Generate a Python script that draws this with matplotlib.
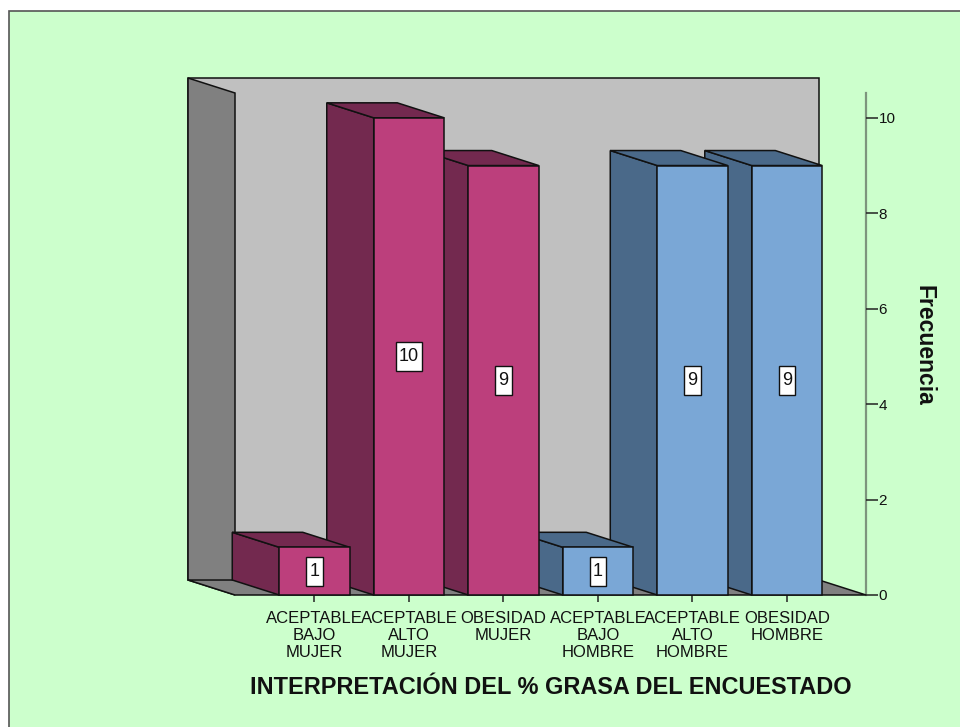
import matplotlib
matplotlib.use("Agg")
import matplotlib.pyplot as plt
from matplotlib.patches import Polygon, Rectangle
from matplotlib.path import Path

plt.rcParams['font.family'] = ['Liberation Sans', 'DejaVu Sans']

# Data
categories = ["ACEPTABLE\nBAJO\nMUJER", "ACEPTABLE\nALTO\nMUJER", "OBESIDAD\nMUJER",
              "ACEPTABLE\nBAJO\nHOMBRE", "ACEPTABLE\nALTO\nHOMBRE", "OBESIDAD\nHOMBRE"]
frecuencias = [1, 10, 9, 1, 9, 9]
sexo = ["MUJER", "MUJER", "MUJER", "HOMBRE", "HOMBRE", "HOMBRE"]
y_ticks = [0, 2, 4, 6, 8, 10]

# Styling
W, H = 960, 727
BG = "#CCFFCC"
FRONT = {"MUJER": "#BC3F7C", "HOMBRE": "#7AA7D6"}
SIDE = {"MUJER": "#73294F", "HOMBRE": "#4A6989"}
WALL = "#C0C0C0"
SIDEWALL = "#808080"
EDGE = "#111111"
BAR_W = 0.746
DX, DY = 0.497, 0.314          # oblique depth offset (data units)
XLIM = (-0.841, 5.836)
YLIM = (0, 10.52)


def label_box(x0, y0, width, height, mutation_size):
    """Rectangular label box with more vertical than horizontal padding."""
    px, py = 0.17 * mutation_size, 0.33 * mutation_size
    l, r = x0 - px, x0 + width + px
    b, t = y0 - py, y0 + height + py
    return Path([(l, b), (r, b), (r, t), (l, t), (l, b)],
                [Path.MOVETO, Path.LINETO, Path.LINETO, Path.LINETO, Path.CLOSEPOLY])


fig = plt.figure(figsize=(W / 100, H / 100), dpi=100, facecolor="white")

# green panel with dark frame on top/left
fig.patches.append(Rectangle((9 / W, -0.01), 1.0, 1 - 11 / H + 0.01,
                             transform=fig.transFigure, facecolor=BG,
                             edgecolor="#555555", linewidth=1.2, zorder=-10))

ax = fig.add_axes([235 / W, 1 - 595 / H, (866 - 235) / W, (595 - 93) / H])
ax.set_zorder(1)
ax.set_facecolor("none")
ax.set_xlim(*XLIM)
ax.set_ylim(*YLIM)
x0, x1 = XLIM
y1 = YLIM[1]


def poly(pts, fc, z):
    ax.add_patch(Polygon(pts, closed=True, facecolor=fc, edgecolor=EDGE,
                         linewidth=1.1, joinstyle="miter", clip_on=False, zorder=z))


# back wall, left wall and floor
poly([(x0 - DX, DY), (x1 - DX, DY), (x1 - DX, y1 + DY), (x0 - DX, y1 + DY)], WALL, 1)
poly([(x0, 0), (x0, y1), (x0 - DX, y1 + DY), (x0 - DX, DY)], SIDEWALL, 2)
poly([(x0, 0), (x1, 0), (x1 - DX, DY), (x0 - DX, DY)], SIDEWALL, 2)

# 3D bars, drawn right to left so nearer-left bars cover neighbours' side faces
for i in reversed(range(len(frecuencias))):
    v = frecuencias[i]
    g = sexo[i]
    a, b = i - BAR_W / 2, i + BAR_W / 2
    z = 10 + (len(frecuencias) - i) * 3
    poly([(a, 0), (a, v), (a - DX, v + DY), (a - DX, DY)], SIDE[g], z)
    poly([(a, v), (b, v), (b - DX, v + DY), (a - DX, v + DY)], SIDE[g], z)
    poly([(a, 0), (b, 0), (b, v), (a, v)], FRONT[g], z + 1)
    ax.text(i, v / 2, str(v), ha="center", va="center", fontsize=13, zorder=z + 2,
            color="#111111",
            bbox=dict(boxstyle=label_box, facecolor="white",
                      edgecolor="#111111", linewidth=1.0))

# axes
for s in ["left", "top", "bottom"]:
    ax.spines[s].set_visible(False)
ax.spines["right"].set_color("#7D957D")
ax.spines["right"].set_linewidth(1.6)
ax.spines["right"].set_zorder(0.5)

ax.set_xticks(range(len(categories)))
ax.set_xticklabels(categories, fontsize=12, linespacing=1.17, color="#111111")
ax.tick_params(axis="x", direction="out", length=5, width=1.1, color="#222222", pad=6.5)

ax.yaxis.tick_right()
ax.set_yticks(y_ticks)
ax.set_yticklabels([str(t) for t in y_ticks], fontsize=11, color="#111111")
ax.tick_params(axis="y", direction="out", length=8.5, width=1.1, color="#222222", pad=0.5)

fig.text(551 / W, 1 - 688 / H, "INTERPRETACIÓN DEL % GRASA DEL ENCUESTADO",
         ha="center", va="center", fontsize=16.9, fontweight="bold", color="#111111")
fig.text(924 / W, 1 - 345 / H, "Frecuencia", ha="center", va="center", rotation=-90,
         fontsize=16.5, fontweight="bold", color="#111111")

fig.savefig("out.png", dpi=100, facecolor=fig.get_facecolor())
